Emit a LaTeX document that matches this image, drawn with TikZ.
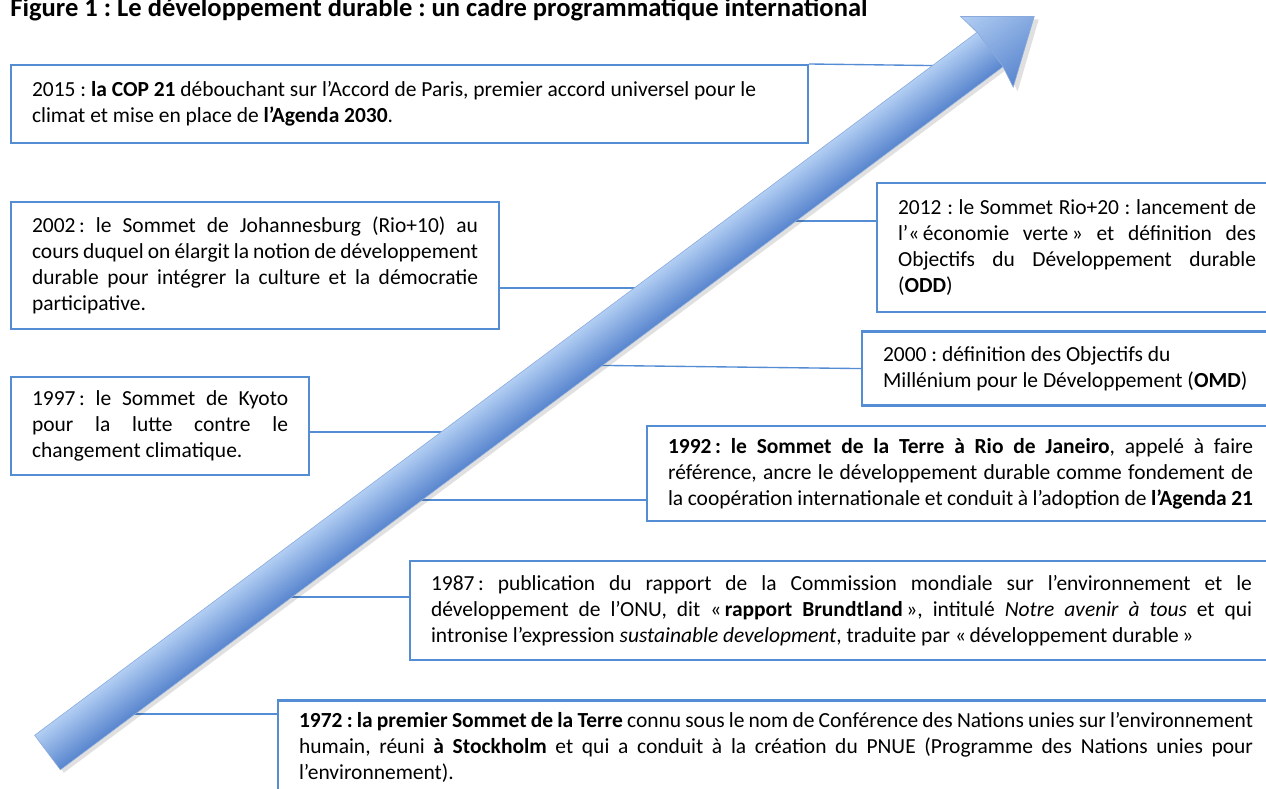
\documentclass[tikz,border=0pt]{standalone}
\usepackage{fontspec}
\setmainfont{Carlito}
\usepackage{xcolor}
\usepackage{tikz}
\newlength\px
\setlength\px{0.018cm}
\definecolor{bxblue}{RGB}{84,141,212}
\definecolor{arlight}{RGB}{178,206,243}
\definecolor{armid}{RGB}{139,180,234}
\definecolor{ardark}{RGB}{88,133,206}
\frenchspacing

\begin{document}
\begin{tikzpicture}[x=0.018cm,y=-0.018cm]
\tikzset{
  ev/.style={rectangle,draw=bxblue,line width=1.1pt,fill=white,inner xsep=21\px,inner ysep=0pt,anchor=north west,align=justify,font=\fontsize{11pt}{13.3pt}\selectfont,text=black},
  ln/.style={draw=bxblue,line width=0.7pt},
  hd/.style={anchor=base west,inner sep=0pt,font=\fontsize{13.6pt}{15pt}\selectfont\bfseries}
}
\clip (0,0) rectangle (1266,789);
\fill[white] (0,0) rectangle (1266,789);
\node[hd] (title) at (10,17) {Figure 1 : Le développement durable : un cadre programmatique international};
\node[ev,align=flush left,text width=755\px,minimum height=78\px] (e2015) at (10,64) {2015 : \textbf{la COP 21} débouchant sur l’Accord de Paris, premier accord universel pour le\\climat et mise en place de \textbf{l’Agenda 2030}.};
\node[ev,text width=446\px,minimum height=127\px] (e2002) at (10,201) {2002\,: le Sommet de Johannesburg (Rio+10) au \linebreak cours duquel on élargit la notion de développement \linebreak durable pour intégrer la culture et la démocratie \linebreak participative.};
\node[ev,text width=256\px,minimum height=98\px] (e1997) at (10,376) {1997\,: le Sommet de Kyoto \linebreak pour la lutte contre le \linebreak changement climatique.};
\node[ev,text width=358\px,minimum height=129\px] (e2012) at (876,182) {2012 : le Sommet Rio+20 : lancement de \linebreak l’«\,économie verte\,» et définition des \linebreak Objectifs du Développement durable \linebreak (\textbf{ODD})};
\node[ev,align=flush left,text width=420\px,minimum height=74\px] (e2000) at (861,330.5) {2000 : définition des Objectifs du\\Millénium pour le Développement (\textbf{OMD})};
\node[ev,text width=585\px,minimum height=95\px] (e1992) at (646,425) {\textbf{1992\,: le Sommet de la Terre à Rio de Janeiro}, appelé à faire \linebreak référence, ancre le développement durable comme fondement de \linebreak la coopération internationale et conduit à l’adoption de \textbf{l’Agenda 21}};
\node[ev,text width=821\px,minimum height=99\px] (e1987) at (409,560) {1987\,: publication du rapport de la Commission mondiale sur l’environnement et le \linebreak développement de l’ONU, dit «\,\textbf{rapport Brundtland}\,», intitulé \textit{Notre avenir à tous} et qui \linebreak intronise l’expression \textit{sustainable development}, traduite par «\,développement durable\,»};
\node[ev,text width=954\px,minimum height=94\px] (e1972) at (277,699.5) {\textbf{1972 : la premier Sommet de la Terre} connu sous le nom de Conférence des Nations unies sur l’environnement \linebreak humain, réuni \textbf{à Stockholm} et qui a conduit à la création du PNUE (Programme des Nations unies pour \linebreak l’environnement).};
\coordinate (a2015) at (968,66);
\coordinate (a2012) at (760,221);
\coordinate (a2002) at (670,288);
\coordinate (a2000) at (567,365);
\coordinate (a1997) at (477,432);
\coordinate (a1992) at (386,500);
\coordinate (a1987) at (256,597);
\coordinate (a1972) at (99,714);
\draw[ln] (e2015.north east) -- (a2015);
\draw[ln] (a2000) -- (e2000.west);
\foreach \y in {2002,1997}{\draw[ln] (a\y -| e\y.east) -- (a\y);}
\foreach \y in {2012,1992,1987,1972}{\draw[ln] (a\y) -- (a\y -| e\y.west);}
\begin{scope}[transform canvas={shift={(47.5,752.5)},rotate=36.72}]
\fill[black,opacity=0.12] (1,3) -- (1177,3) -- (1173,-40) -- (1233,5) -- (1173,50) -- (1177,26) -- (1,26) -- cycle;
\shade[top color=arlight,middle color=armid,bottom color=ardark] (0,-21.5) rectangle (1178,21.5);
\shade[top color=arlight,middle color=armid,bottom color=ardark,draw=ardark!70,line width=0.3pt] (1176,-21.5) -- (1172,-44) -- (1231,0) -- (1172,44) -- (1176,21.5) -- cycle;
\draw[ardark!70,line width=0.3pt] (1176,-21.5) -- (0,-21.5) -- (0,21.5) -- (1176,21.5);
\end{scope}
\end{tikzpicture}
\end{document}
